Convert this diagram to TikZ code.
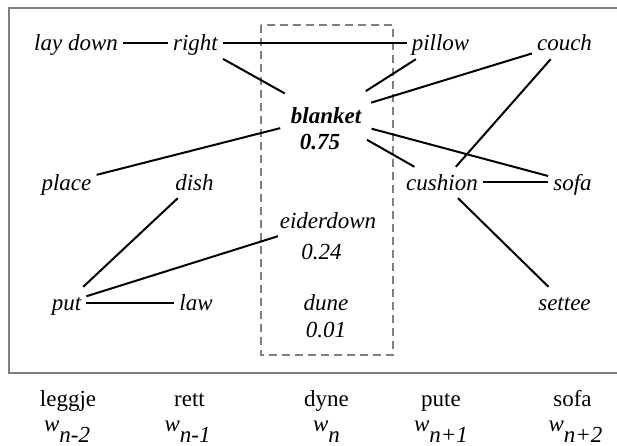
\documentclass[tikz,border=0pt]{standalone}
\usepackage{fontspec}
\setmainfont{Liberation Serif}
\begin{document}
\begin{tikzpicture}[x=1pt,y=-1pt,
  wd/.style={font=\fontsize{23}{27}\selectfont\itshape, text height=15pt, text depth=0pt, inner xsep=5pt, inner ysep=8pt},
  val/.style={font=\fontsize{23}{27}\selectfont\itshape, anchor=base, inner sep=0pt},
  lbl/.style={font=\fontsize{23}{27}\selectfont, anchor=base, inner sep=0pt},
  link/.style={line width=2pt, draw=black},
  frame/.style={line width=2pt, draw=black!50},
  focus/.style={line width=2pt, draw=black!50, dash pattern=on 8pt off 5pt}]
  \useasboundingbox (0,0) rectangle (617,446);

  % outer frame and the window around the current word
  \draw[frame] (617,8) -- (9,8) -- (9,373) -- (617,373);
  \draw[focus] (261,25) rectangle (393,355);

  % candidate words
  \node[wd] (laydown) at (76,43.5) {lay down};
  \node[wd] (right) at (195.5,43.5) {right};
  \node[wd] (pillow) at (440.5,43.5) {pillow};
  \node[wd] (couch) at (564.5,43.5) {couch};
  \node[wd, font=\fontsize{23}{27}\selectfont\bfseries\itshape, shape=circle, minimum size=94pt, inner sep=0pt] (blanket) at (326,116.5) {blanket};
  \node[val, font=\fontsize{23}{27}\selectfont\bfseries\itshape] (blanketp) at (320,150) {0.75};
  \node[wd] (place) at (66.5,182.5) {place};
  \node[wd] (dish) at (194.5,182.5) {dish};
  \node[wd] (cushion) at (442,182.5) {cushion};
  \node[wd] (sofa) at (572.5,182.5) {sofa};
  \node[wd] (eiderdown) at (328,220.5) {eiderdown};
  \node[val] (eiderp) at (321.5,259) {0.24};
  \node[wd] (put) at (66.5,302.5) {put};
  \node[wd] (law) at (196,302.5) {law};
  \node[wd] (dune) at (326,302.5) {dune};
  \node[val] (dunep) at (326,337) {0.01};
  \node[wd] (settee) at (564.5,302.5) {settee};

  % links between words
  \draw[link] (laydown) -- (right);
  \draw[link] (right) -- (pillow);
  \draw[link] (right) -- (blanket);
  \draw[link] (pillow) -- (blanket);
  \draw[link] (couch) -- (blanket);
  \draw[link] (place) -- (blanket);
  \draw[link] (blanket) -- (sofa);
  \draw[link] (blanket) -- (cushion);
  \draw[link] (couch) -- (cushion);
  \draw[link] (cushion) -- (sofa);
  \draw[link] (cushion) -- (settee);
  \draw[link] (dish) -- (put);
  \draw[link] (eiderdown) -- (put);
  \draw[link] (put) -- (law);

  % source sentence and positions
  \node[lbl] (s1) at (68,406) {leggje};
  \node[lbl] (s2) at (189.5,406) {rett};
  \node[lbl] (s3) at (326.5,406) {dyne};
  \node[lbl] (s4) at (441,406) {pute};
  \node[lbl] (s5) at (572.5,406) {sofa};
  \node[lbl] (p1) at (67,431) {\textit{w}\raisebox{-11pt}{\textit{n-2}}};
  \node[lbl] (p2) at (187.5,431) {\textit{w}\raisebox{-11pt}{\textit{n-1}}};
  \node[lbl] (p3) at (326.5,431) {\textit{w}\raisebox{-11pt}{\textit{n}}};
  \node[lbl] (p4) at (441,431) {\textit{w}\raisebox{-11pt}{\textit{n+1}}};
  \node[lbl] (p5) at (575.5,431) {\textit{w}\raisebox{-11pt}{\textit{n+2}}};
\end{tikzpicture}
\end{document}
